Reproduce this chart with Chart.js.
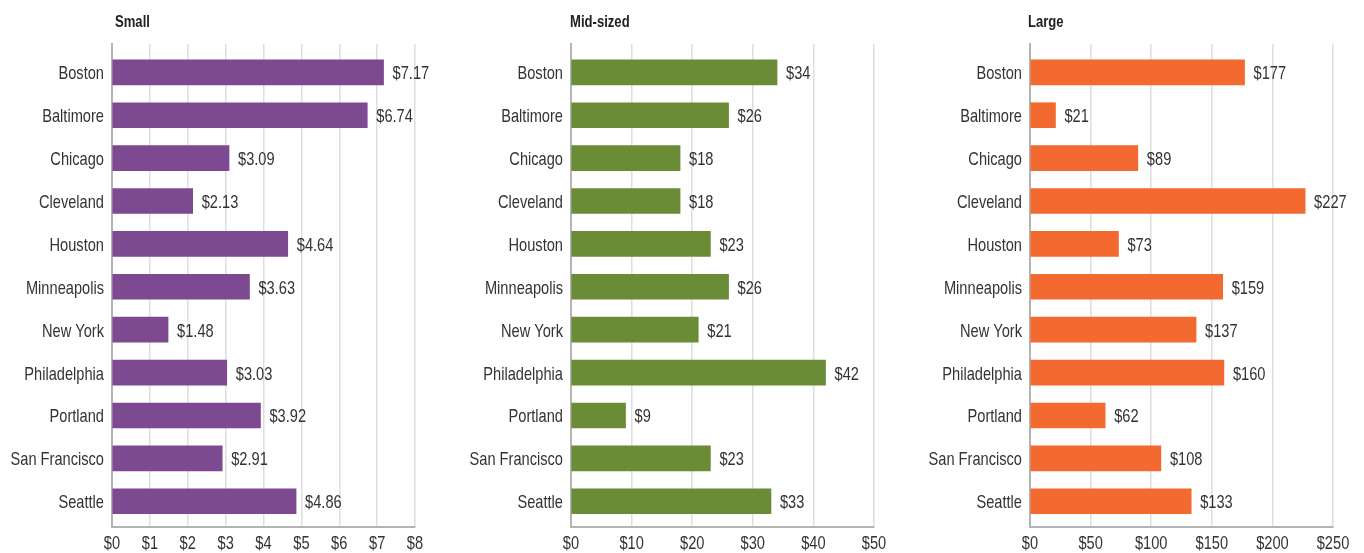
<!DOCTYPE html>
<html>
<head>
<meta charset="utf-8">
<script src="https://cdn.jsdelivr.net/npm/chart.js@4.4.1/dist/chart.umd.min.js"></script>
<style>
  body { margin: 0; background: #fff; overflow: hidden; }
  .panel { position: absolute; top: 0; height: 553px; }
</style>
</head>
<body>
<div class="panel" style="left:0px"><canvas id="small" width="459" height="553"></canvas></div>
<div class="panel" style="left:459px"><canvas id="mid" width="459" height="553"></canvas></div>
<div class="panel" style="left:918px"><canvas id="large" width="446" height="553"></canvas></div>
<script>
const cities = ["Boston", "Baltimore", "Chicago", "Cleveland", "Houston", "Minneapolis",
  "New York", "Philadelphia", "Portland", "San Francisco", "Seattle"]
const smallValues = [7.17, 6.74, 3.09, 2.13, 4.64, 3.63, 1.48, 3.03, 3.92, 2.91, 4.86]
const midValues = [34, 26, 18, 18, 23, 26, 21, 42, 9, 23, 33]
const largeValues = [177, 21, 89, 227, 73, 159, 137, 160, 62, 108, 133]
const panelTitles = ["Small", "Mid-sized", "Large"]
const axisMax = [8, 50, 250]
const axisStep = [1, 10, 50]

const FONT = "'Liberation Sans', Arial, sans-serif"
const TEXT = '#333333'
const SQUEEZE = 0.77  // the original uses a condensed face

// canvas text squeezed horizontally, baseline at y
function narrowText(ctx, text, x, y, align) {
  ctx.save()
  ctx.translate(x, y)
  ctx.scale(SQUEEZE, 1)
  ctx.textAlign = align
  ctx.textBaseline = 'alphabetic'
  ctx.fillText(text, 0, 0)
  ctx.restore()
}

// tick labels, value labels and panel title, all drawn condensed
const narrowLabels = {
  id: 'narrowLabels',
  afterDraw(chart, args, opts) {
    const ctx = chart.ctx
    const xs = chart.scales.x
    const ys = chart.scales.y
    const values = chart.data.datasets[0].data
    ctx.save()
    ctx.font = '19px ' + FONT
    ctx.fillStyle = TEXT
    ys.ticks.forEach((t, i) => {
      narrowText(ctx, chart.data.labels[t.value], ys.right - 8, ys.getPixelForTick(i) + 7, 'right')
    })
    xs.ticks.forEach(t => {
      narrowText(ctx, '$' + t.value, xs.getPixelForValue(t.value), 549, 'center')
    })
    chart.getDatasetMeta(0).data.forEach((bar, i) => {
      narrowText(ctx, '$' + values[i].toFixed(opts.decimals), bar.x + 9, bar.y + 7, 'left')
    })
    ctx.font = 'bold 17px ' + FONT
    ctx.fillStyle = '#222'
    narrowText(ctx, opts.title, chart.chartArea.left + opts.titleShift, 27, 'left')
    ctx.restore()
  }
}

function makePanel(id, values, color, idx, decimals, padRight, titleShift) {
  new Chart(document.getElementById(id), {
    type: 'bar',
    data: {
      labels: cities,
      datasets: [{
        data: values,
        backgroundColor: color,
        barThickness: 25
      }]
    },
    options: {
      indexAxis: 'y',
      responsive: false,
      animation: false,
      layout: { padding: { top: 44, right: padRight, bottom: 0, left: 0 } },
      plugins: {
        legend: { display: false },
        tooltip: { enabled: false },
        narrowLabels: { decimals: decimals, title: panelTitles[idx], titleShift: titleShift }
      },
      scales: {
        x: {
          min: 0,
          max: axisMax[idx],
          ticks: { stepSize: axisStep[idx], display: false },
          grid: { color: '#dedede', lineWidth: 1.5, drawTicks: false },
          border: { display: true, color: '#b4b4b4', width: 2 },
          afterFit: s => { s.height = 26 }
        },
        y: {
          ticks: { display: false },
          grid: { display: false, drawTicks: false },
          border: { display: true, color: '#b4b4b4', width: 2 },
          afterFit: s => { s.width = 112 },
          afterBuildTicks: s => {
            // row pitch ~42.9px, first row centre 28px below the top of the plot
            s._valueRange = 11.26
            s._startValue = -0.66
          }
        }
      }
    },
    plugins: [narrowLabels]
  })
}

makePanel('small', smallValues, '#7d4990', 0, 2, 44, 3)
makePanel('mid', midValues, '#6b8c37', 1, 0, 44, -1)
makePanel('large', largeValues, '#f26a2f', 2, 0, 31, -2)
</script>
</body>
</html>
